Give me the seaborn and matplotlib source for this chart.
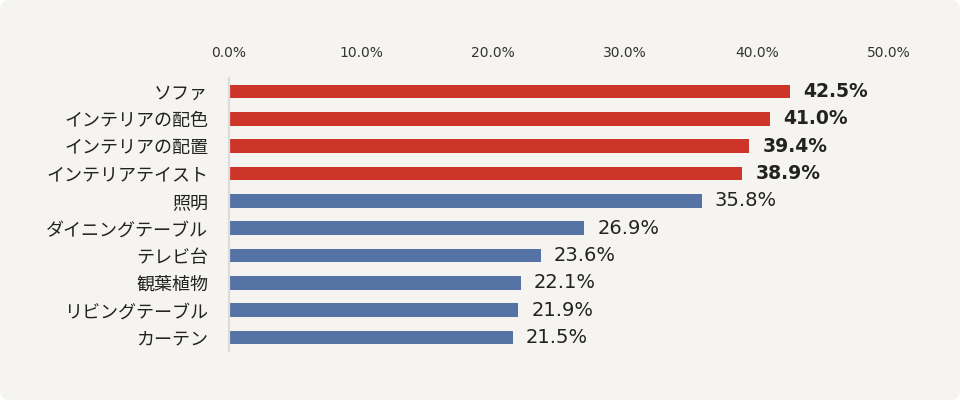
import matplotlib
matplotlib.use("Agg")
import matplotlib.pyplot as plt
from matplotlib.patches import FancyBboxPatch
from matplotlib.ticker import PercentFormatter
import seaborn as sns
import pandas as pd

# data
categories = ["ソファ", "インテリアの配色", "インテリアの配置", "インテリアテイスト", "照明",
              "ダイニングテーブル", "テレビ台", "観葉植物", "リビングテーブル", "カーテン"]
values = [42.5, 41.0, 39.4, 38.9, 35.8, 26.9, 23.6, 22.1, 21.9, 21.5]
highlight = [True, True, True, True, False, False, False, False, False, False]

RED = "#cd3529"
BLUE = "#5574a5"
BG = "#f5f4f0"

sns.set_style("white")
plt.rcParams["font.family"] = ["DejaVu Sans", "Noto Sans CJK JP"]

df = pd.DataFrame({"cat": categories, "val": values})
palette = [RED if h else BLUE for h in highlight]

fig = plt.figure(figsize=(9.6, 4.0), dpi=100, facecolor="white")
# rounded panel background (fills the whole figure, only corners rounded)
bg = FancyBboxPatch((0, 0), 1, 1, boxstyle="round,pad=0,rounding_size=0.011",
                    transform=fig.transFigure, facecolor=BG, edgecolor="none", zorder=-10,
                    mutation_aspect=2.4)
fig.patches.append(bg)

ax = fig.add_axes([229 / 960, 48.8 / 400, 660 / 960, 273.4 / 400])
ax.set_facecolor("none")

sns.barplot(data=df, x="val", y="cat", hue="cat", palette=palette, legend=False,
            width=0.5, orient="h", ax=ax, saturation=1, linewidth=0)

ax.set_xlim(0, 50)
ax.set_ylim(9.5, -0.5)
ax.xaxis.set_major_formatter(PercentFormatter(decimals=1))
ax.set_xticks([0, 10, 20, 30, 40, 50])
ax.xaxis.tick_top()
ax.tick_params(axis="x", length=0, pad=13, labelsize=10, labelcolor="#333333")
ax.tick_params(axis="y", length=0, pad=15, labelcolor="#222222")
for lab in ax.get_yticklabels():
    lab.set_fontfamily(["Noto Sans CJK JP", "DejaVu Sans"])
    lab.set_fontsize(13)
ax.set_xlabel("")
ax.set_ylabel("")

for s in ["top", "right", "bottom"]:
    ax.spines[s].set_visible(False)
ax.spines["left"].set_color("#dcdcdc")
ax.spines["left"].set_linewidth(1.6)

# value labels
for i, (v, h) in enumerate(zip(values, highlight)):
    ax.annotate(f"{v:.1f}%", xy=(v, i), xytext=(9.5, 0), textcoords="offset points",
                va="center", ha="left", fontsize=13.5 if h else 14, color="#222222",
                fontweight="bold" if h else "normal")

fig.savefig("out.png", dpi=100, facecolor="white")
